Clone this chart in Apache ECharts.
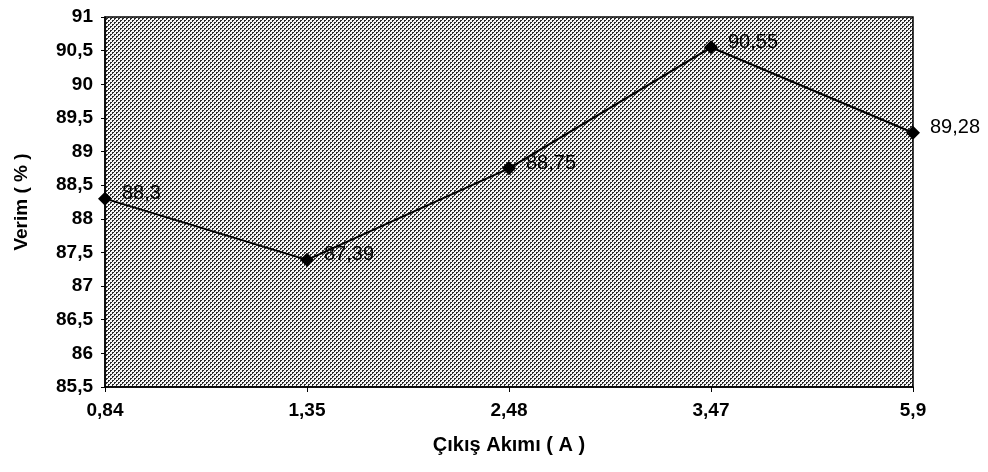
<!DOCTYPE html>
<html><head><meta charset="utf-8">
<script src="https://cdn.jsdelivr.net/npm/echarts@6/dist/echarts.min.js"></script>
<style>html,body{margin:0;padding:0;background:#fff}#c{width:988px;height:472px}</style>
</head><body><div id="c"></div>
<script>
const categories = ['0,84', '1,35', '2,48', '3,47', '5,9'];
const verim = [88.3, 87.39, 88.75, 90.55, 89.28];
const yMin = 85.5, yMax = 91, yStep = 0.5;
const xTitle = 'Çıkış Akımı ( A )';
const yTitle = 'Verim ( % )';

const tile = document.createElement('canvas');
tile.width = 4; tile.height = 4;
const tc = tile.getContext('2d');
tc.fillStyle = '#f6f6f6'; tc.fillRect(0,0,4,4);
tc.fillStyle = '#2a2a2a';
[[0,0],[1,0],[0,1],[2,2],[3,2],[2,3]].forEach(([x,y]) => tc.fillRect(x,y,1,1));

const fmt = v => String(v).replace('.', ',');
const chart = echarts.init(document.getElementById('c'));
chart.setOption({
  animation: false,
  grid: { left: 105, right: 75, top: 17, bottom: 85, show: true,
    backgroundColor: { image: tile, repeat: 'repeat' },
    borderColor: '#000', borderWidth: 1.5 },
  xAxis: { type: 'category', data: categories, boundaryGap: false,
    name: xTitle, nameLocation: 'middle', nameGap: 48,
    nameTextStyle: { fontFamily: 'Liberation Sans', fontWeight: 'bold', fontSize: 20, color: '#000' },
    axisLine: { lineStyle: { color: '#000', width: 1.5 } },
    axisTick: { show: true, alignWithLabel: true, length: 5, lineStyle: { color: '#000' } },
    axisLabel: { fontFamily: 'Liberation Sans', fontWeight: 'bold', fontSize: 19, color: '#000', margin: 14 } },
  yAxis: { type: 'value', min: yMin, max: yMax, interval: yStep,
    name: yTitle, nameLocation: 'middle', nameGap: 74, nameRotate: 90,
    nameTextStyle: { fontFamily: 'Liberation Sans', fontWeight: 'bold', fontSize: 19, color: '#000' },
    splitLine: { show: false },
    axisLine: { show: true, lineStyle: { color: '#000', width: 1.5 } },
    axisTick: { show: true, length: 4, lineStyle: { color: '#000' } },
    axisLabel: { fontFamily: 'Liberation Sans', fontWeight: 'bold', fontSize: 19, color: '#000', margin: 12,
      formatter: v => fmt(v) } },
  series: [{ type: 'line', data: verim, symbol: 'diamond', symbolSize: 14,
    lineStyle: { color: '#000', width: 2 }, itemStyle: { color: '#000' },
    label: { show: true, position: 'right', distance: 10, offset: [0, -5],
      fontFamily: 'Liberation Sans', fontSize: 20, color: '#000',
      formatter: p => fmt(p.value) } }]
});
</script></body></html>
